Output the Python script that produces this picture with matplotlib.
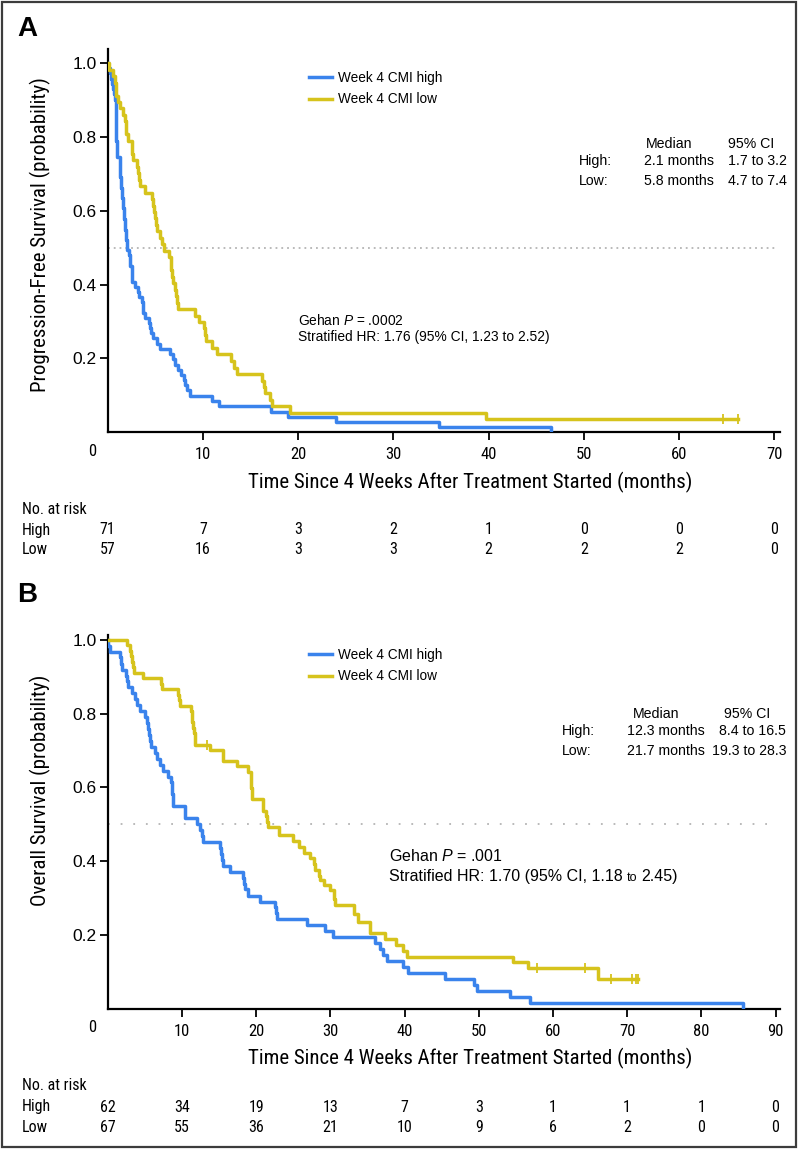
import matplotlib
matplotlib.use('Agg')
import matplotlib.pyplot as plt
import numpy as np
from matplotlib import font_manager as fm
from matplotlib.patches import Rectangle

# ---- data ----
risk_times_a = [0, 10, 20, 30, 40, 50, 60, 70]
risk_high_a = [71, 7, 3, 2, 1, 0, 0, 0]
risk_low_a = [57, 16, 3, 3, 2, 2, 2, 0]

risk_times_b = [0, 10, 20, 30, 40, 50, 60, 70, 80, 90]
risk_high_b = [62, 34, 19, 13, 7, 3, 1, 1, 1, 0]
risk_low_b = [67, 55, 36, 21, 10, 9, 6, 2, 0, 0]

# PFS, CMI high (time of step, survival after step)
pfs_high_t = [0.05, 0.2, 0.3, 0.45, 0.55, 0.65, 0.8, 0.87, 0.92, 0.96, 1.29, 1.32, 1.4, 1.5, 1.6,
              1.75, 1.85, 1.95, 2.05, 2.2, 2.3, 2.5, 2.6, 2.9, 3.2, 3.3, 3.6, 3.75, 3.95, 4.3, 4.4,
              4.5, 4.8, 5.2, 5.5, 6.56, 6.9, 7.1, 7.43, 7.7, 8.0, 8.13, 8.3, 8.66, 10.95, 11.64,
              17.1, 18.9, 24.0, 34.8, 46.5]
pfs_high_s = [0.986, 0.972, 0.958, 0.944, 0.930, 0.915, 0.901, 0.845, 0.789, 0.746, 0.732, 0.690,
              0.662, 0.634, 0.606, 0.577, 0.549, 0.521, 0.493, 0.479, 0.451, 0.423, 0.408, 0.394,
              0.380, 0.366, 0.352, 0.324, 0.310, 0.296, 0.282, 0.268, 0.254, 0.239, 0.225, 0.211,
              0.197, 0.183, 0.169, 0.155, 0.141, 0.127, 0.113, 0.099, 0.085, 0.070, 0.056, 0.042,
              0.028, 0.014, 0.0]
pfs_high_cens = []

# PFS, CMI low
pfs_low_t = [0.15, 0.59, 0.75, 0.84, 0.9, 1.1, 1.29, 1.65, 1.8, 1.88, 1.93, 2.17, 2.52, 2.6, 2.7,
             3.05, 3.2, 3.3, 3.4, 3.93, 4.6, 4.8, 4.9, 5.0, 5.1, 5.15, 5.5, 5.7, 5.86, 6.45, 6.6,
             6.65, 6.73, 6.9, 7.08, 7.2, 7.3, 7.43, 9.12, 9.54, 10.07, 10.2, 10.31, 11.0, 11.47,
             12.98, 13.3, 13.58, 16.2, 16.4, 16.56, 17.0, 17.26, 19.19, 39.7]
pfs_low_s = [0.982, 0.965, 0.947, 0.930, 0.912, 0.895, 0.877, 0.860, 0.842, 0.825, 0.807, 0.790,
             0.772, 0.754, 0.737, 0.719, 0.702, 0.684, 0.667, 0.649, 0.632, 0.614, 0.596, 0.579,
             0.561, 0.544, 0.526, 0.509, 0.491, 0.474, 0.456, 0.439, 0.421, 0.404, 0.386, 0.368,
             0.351, 0.333, 0.316, 0.298, 0.281, 0.263, 0.246, 0.228, 0.211, 0.193, 0.175, 0.158,
             0.140, 0.123, 0.105, 0.088, 0.070, 0.053, 0.035]
pfs_low_cens = [64.6, 66.2]

# OS, CMI high
os_high_t = [0.05, 0.31, 1.66, 1.8, 1.88, 2.4, 2.55, 2.78, 3.23, 3.7, 3.9, 4.35, 5.03, 5.3, 5.48,
             5.6, 5.75, 5.84, 6.4, 6.6, 7.05, 7.5, 8.17, 8.5, 8.6, 8.7, 8.8, 8.84, 10.35, 10.42,
             11.99, 12.44, 12.7, 12.89, 15.14, 15.3, 15.45, 15.58, 16.48, 18.2, 18.4, 18.5, 18.95,
             20.52, 22.6, 22.7, 22.77, 26.81, 29.3, 30.4, 36.0, 36.7, 37.1, 37.6, 39.8, 40.5, 45.5,
             49.4, 49.7, 54.2, 56.9, 85.6]
os_high_s = [0.984, 0.968, 0.952, 0.935, 0.919, 0.903, 0.887, 0.871, 0.855, 0.839, 0.823, 0.806,
             0.790, 0.774, 0.758, 0.742, 0.726, 0.710, 0.694, 0.677, 0.661, 0.645, 0.629, 0.613,
             0.597, 0.581, 0.565, 0.548, 0.532, 0.516, 0.500, 0.484, 0.468, 0.452, 0.435, 0.419,
             0.403, 0.387, 0.371, 0.355, 0.339, 0.323, 0.306, 0.290, 0.274, 0.258, 0.242, 0.226,
             0.210, 0.194, 0.177, 0.161, 0.145, 0.129, 0.113, 0.097, 0.081, 0.065, 0.048, 0.032,
             0.016, 0.0]
os_high_cens = []

# OS, CMI low
os_low_t = [2.56, 3.0, 3.15, 3.23, 3.45, 3.59, 4.8, 7.2, 7.27, 9.52, 9.65, 9.74, 11.2, 11.32, 11.4,
            11.5, 11.6, 11.7, 11.77, 13.8, 15.5, 15.58, 17.38, 18.95, 19.25, 19.3, 19.35, 19.4,
            19.45, 20.9, 20.97, 21.3, 21.5, 21.65, 23.1, 25.0, 25.8, 26.5, 27.2, 27.8, 27.9, 28.5,
            28.6, 29.2, 29.9, 30.5, 30.6, 33.2, 33.7, 35.3, 35.4, 37.4, 38.9, 39.8, 40.3, 54.6,
            56.7, 66.1]
os_low_s = [0.985, 0.970, 0.955, 0.940, 0.925, 0.910, 0.896, 0.881, 0.866, 0.851, 0.836, 0.821,
            0.806, 0.791, 0.776, 0.761, 0.746, 0.731, 0.716, 0.701, 0.687, 0.672, 0.657, 0.642,
            0.627, 0.612, 0.597, 0.582, 0.567, 0.552, 0.537, 0.522, 0.507, 0.493, 0.470, 0.455,
            0.438, 0.423, 0.408, 0.393, 0.376, 0.360, 0.348, 0.336, 0.322, 0.297, 0.281, 0.255,
            0.235, 0.220, 0.205, 0.188, 0.172, 0.157, 0.141, 0.127, 0.109, 0.080]
os_low_cens = [13.33, 57.8, 64.3, 67.8, 70.7, 71.2, 71.5]

# ---- fonts ----
plt.rcParams['font.family'] = ['Liberation Sans', 'DejaVu Sans']
plt.rcParams['mathtext.fontset'] = 'custom'
plt.rcParams['mathtext.rm'] = 'Liberation Sans'
plt.rcParams['mathtext.it'] = 'Liberation Sans:italic'

narrow_file = None
for want in ['Liberation Sans Narrow', 'Roboto Condensed', 'Open Sans Condensed']:
    for f in fm.fontManager.ttflist:
        if f.name == want and f.style == 'normal' and f.weight in (400, 'normal', 'regular'):
            narrow_file = f.fname
            break
    if narrow_file:
        break
if narrow_file is None:
    for f in fm.fontManager.ttflist:
        if f.stretch in ('condensed', 'semi-condensed') and f.style == 'normal' \
                and f.weight in (400, 'normal', 'regular'):
            narrow_file = f.fname
            break


def cfont(size):
    if narrow_file:
        return fm.FontProperties(fname=narrow_file, size=size)
    return fm.FontProperties(family='Liberation Sans', size=size * 0.82)


BLUE = '#3a83ec'
YELLOW = '#d6c31c'
W, H = 798, 1149

fig = plt.figure(figsize=(W / 100, H / 100), dpi=100)


def fx(px):
    return px / W


def fy(py):
    return 1 - py / H


def km_line(ax, t, s, cens, color, label):
    end = max([t[-1]] + cens)
    xs = np.r_[0, t, end]
    ys = np.r_[1.0, s, s[-1]]
    ax.step(xs, ys, where='post', color=color, lw=2.5, label=label, zorder=3)
    if cens:
        idx = np.searchsorted(t, cens, side='right') - 1
        yc = np.where(idx >= 0, np.array(s)[idx], 1.0)
        ax.plot(cens, yc, ls='none', marker='|', ms=7, mew=1.3, color=color, zorder=3)


def gap_text(x, y, runs, gap=4):
    r = fig.canvas.get_renderer()
    for s, kw in runs:
        t = fig.text(fx(x), fy(y), s, ha='left', va='baseline', **kw)
        bb = t.get_window_extent(r)
        x = bb.x1 + gap


def panel(ax_box, xmax, ymax, xticks, curves, dots, stats, gehan, risk, ylab, pos):
    ax = fig.add_axes(ax_box)
    for t, s, c, col, lab in curves:
        km_line(ax, t, s, c, col, lab)
    ax.plot([0, dots[0]], [0.5, 0.5], color='#b4b4b4', lw=1.3, ls=dots[1], zorder=1)
    ax.set_xlim(0, xmax)
    ax.set_ylim(0, ymax)
    ax.spines[['top', 'right']].set_visible(False)
    ax.spines[['left', 'bottom']].set_linewidth(1.6)
    ax.tick_params(direction='out', length=6, width=1.3)
    ax.tick_params(axis='y', pad=2, labelsize=12.5)
    ax.tick_params(axis='x', pad=5)
    ax.set_yticks([0.2, 0.4, 0.6, 0.8, 1.0])
    ax.set_yticklabels(['0.2', '0.4', '0.6', '0.8', '1.0'])
    ax.set_xticks(xticks)
    ax.set_xticklabels([''] + [str(v) for v in xticks[1:]], fontproperties=cfont(12))
    ax.xaxis.get_major_ticks()[0].tick1line.set_visible(False)
    ax.annotate('0', xy=(0, 0), xycoords=('data', 'axes fraction'), xytext=(-16, -12),
                textcoords='offset pixels', ha='center', va='top', fontproperties=cfont(12))

    ax.legend(loc='upper left', bbox_to_anchor=(fx(309), fy(pos['leg'])),
              bbox_transform=fig.transFigure, frameon=False, borderpad=0, borderaxespad=0,
              handlelength=1.7, handletextpad=0.45, labelspacing=0.55, fontsize=9.8)

    # median table
    for txt, x, y, ha in stats:
        fig.text(fx(x), fy(y), txt, ha=ha, va='center', fontsize=10.2)

    gap_text(gehan[0], gehan[1], gehan[2])

    # labels
    fig.text(fx(40), fy(pos['ylab']), ylab, rotation=90, ha='center', va='center',
             fontproperties=cfont(15))
    fig.text(fx(470), fy(pos['xlab']), 'Time Since 4 Weeks After Treatment Started (months)',
             ha='center', va='center', fontproperties=cfont(15))
    fig.text(fx(17), fy(pos['letter']), pos['L'], ha='left', va='center', fontsize=20,
             fontweight='bold')

    # risk table
    rt, rh, rl = risk
    fig.text(fx(22), fy(pos['risk']), 'No. at risk', ha='left', va='center', fontproperties=cfont(11.5))
    fig.text(fx(22), fy(pos['risk'] + 21), 'High', ha='left', va='center', fontproperties=cfont(11.5))
    fig.text(fx(22), fy(pos['risk'] + 41), 'Low', ha='left', va='center', fontproperties=cfont(11.5))
    tr = matplotlib.transforms.blended_transform_factory(ax.transData, fig.transFigure)
    for xv, a, b in zip(rt, rh, rl):
        ax.text(xv, fy(pos['risk'] + 21), str(a), transform=tr, ha='center', va='center',
                fontproperties=cfont(11.5))
        ax.text(xv, fy(pos['risk'] + 41), str(b), transform=tr, ha='center', va='center',
                fontproperties=cfont(11.5))
    return ax


# ---- panel A ----
statsA = [('Median', 646, 144, 'left'), ('95% CI', 728, 144, 'left'),
          ('High:', 579, 161, 'left'), ('2.1 months', 644, 161, 'left'), ('1.7 to 3.2', 728, 161, 'left'),
          ('Low:', 579, 181, 'left'), ('5.8 months', 644, 181, 'left'), ('4.7 to 7.4', 728, 181, 'left')]
gehanA = (298, [('Gehan $P$ = .0002', dict(fontsize=9.9))])
panel([fx(107.7), fy(432.2), (780 - 107.7) / W, (432.2 - 49) / H], 70.6, 1.038,
      list(range(0, 71, 10)),
      [(pfs_high_t, pfs_high_s, pfs_high_cens, BLUE, 'Week 4 CMI high'),
       (pfs_low_t, pfs_low_s, pfs_low_cens, YELLOW, 'Week 4 CMI low')],
      (70.2, (0, (1, 2.2))), statsA, (298, 325, [('Gehan $P$ = .0002', dict(fontsize=9.9))]),
      (risk_times_a, risk_high_a, risk_low_a), 'Progression-Free Survival (probability)',
      dict(leg=71, ylab=235, xlab=482, letter=29, L='A', risk=509))
gap_text(298, 341, [('Stratified HR: 1.76 (95% CI, 1.23 to 2.52)', dict(fontsize=9.9))])

# ---- panel B ----
statsB = [('Median', 633, 714, 'left'), ('95% CI', 747, 714, 'center'),
          ('High:', 562, 731, 'left'), ('12.3 months', 627, 731, 'left'), ('8.4 to 16.5', 786, 731, 'right'),
          ('Low:', 562, 751, 'left'), ('21.7 months', 627, 751, 'left'), ('19.3 to 28.3', 786, 751, 'right')]
panel([fx(107.7), fy(1008.5), (780 - 107.7) / W, (1008.5 - 635) / H], 90.6, 1.013,
      list(range(0, 91, 10)),
      [(os_high_t, os_high_s, os_high_cens, BLUE, 'Week 4 CMI high'),
       (os_low_t, os_low_s, os_low_cens, YELLOW, 'Week 4 CMI low')],
      (88.8, (0, (1, 6))), statsB, (389, 861, [('Gehan $P$ = .001', dict(fontsize=11.5))]),
      (risk_times_b, risk_high_b, risk_low_b), 'Overall Survival (probability)',
      dict(leg=648, ylab=790, xlab=1058, letter=595, L='B', risk=1086))
gap_text(389, 881, [('Stratified HR: 1.70 (95% CI, 1.18', dict(fontsize=11.5)),
                    ('to', dict(fontsize=9)), ('2.45)', dict(fontsize=11.5))])

fig.patches.append(Rectangle((fx(2), fy(1147)), fx(794), (1145) / H, transform=fig.transFigure,
                             fill=False, ec='#3c3c3c', lw=1.6))

fig.savefig('out.png', dpi=100)
